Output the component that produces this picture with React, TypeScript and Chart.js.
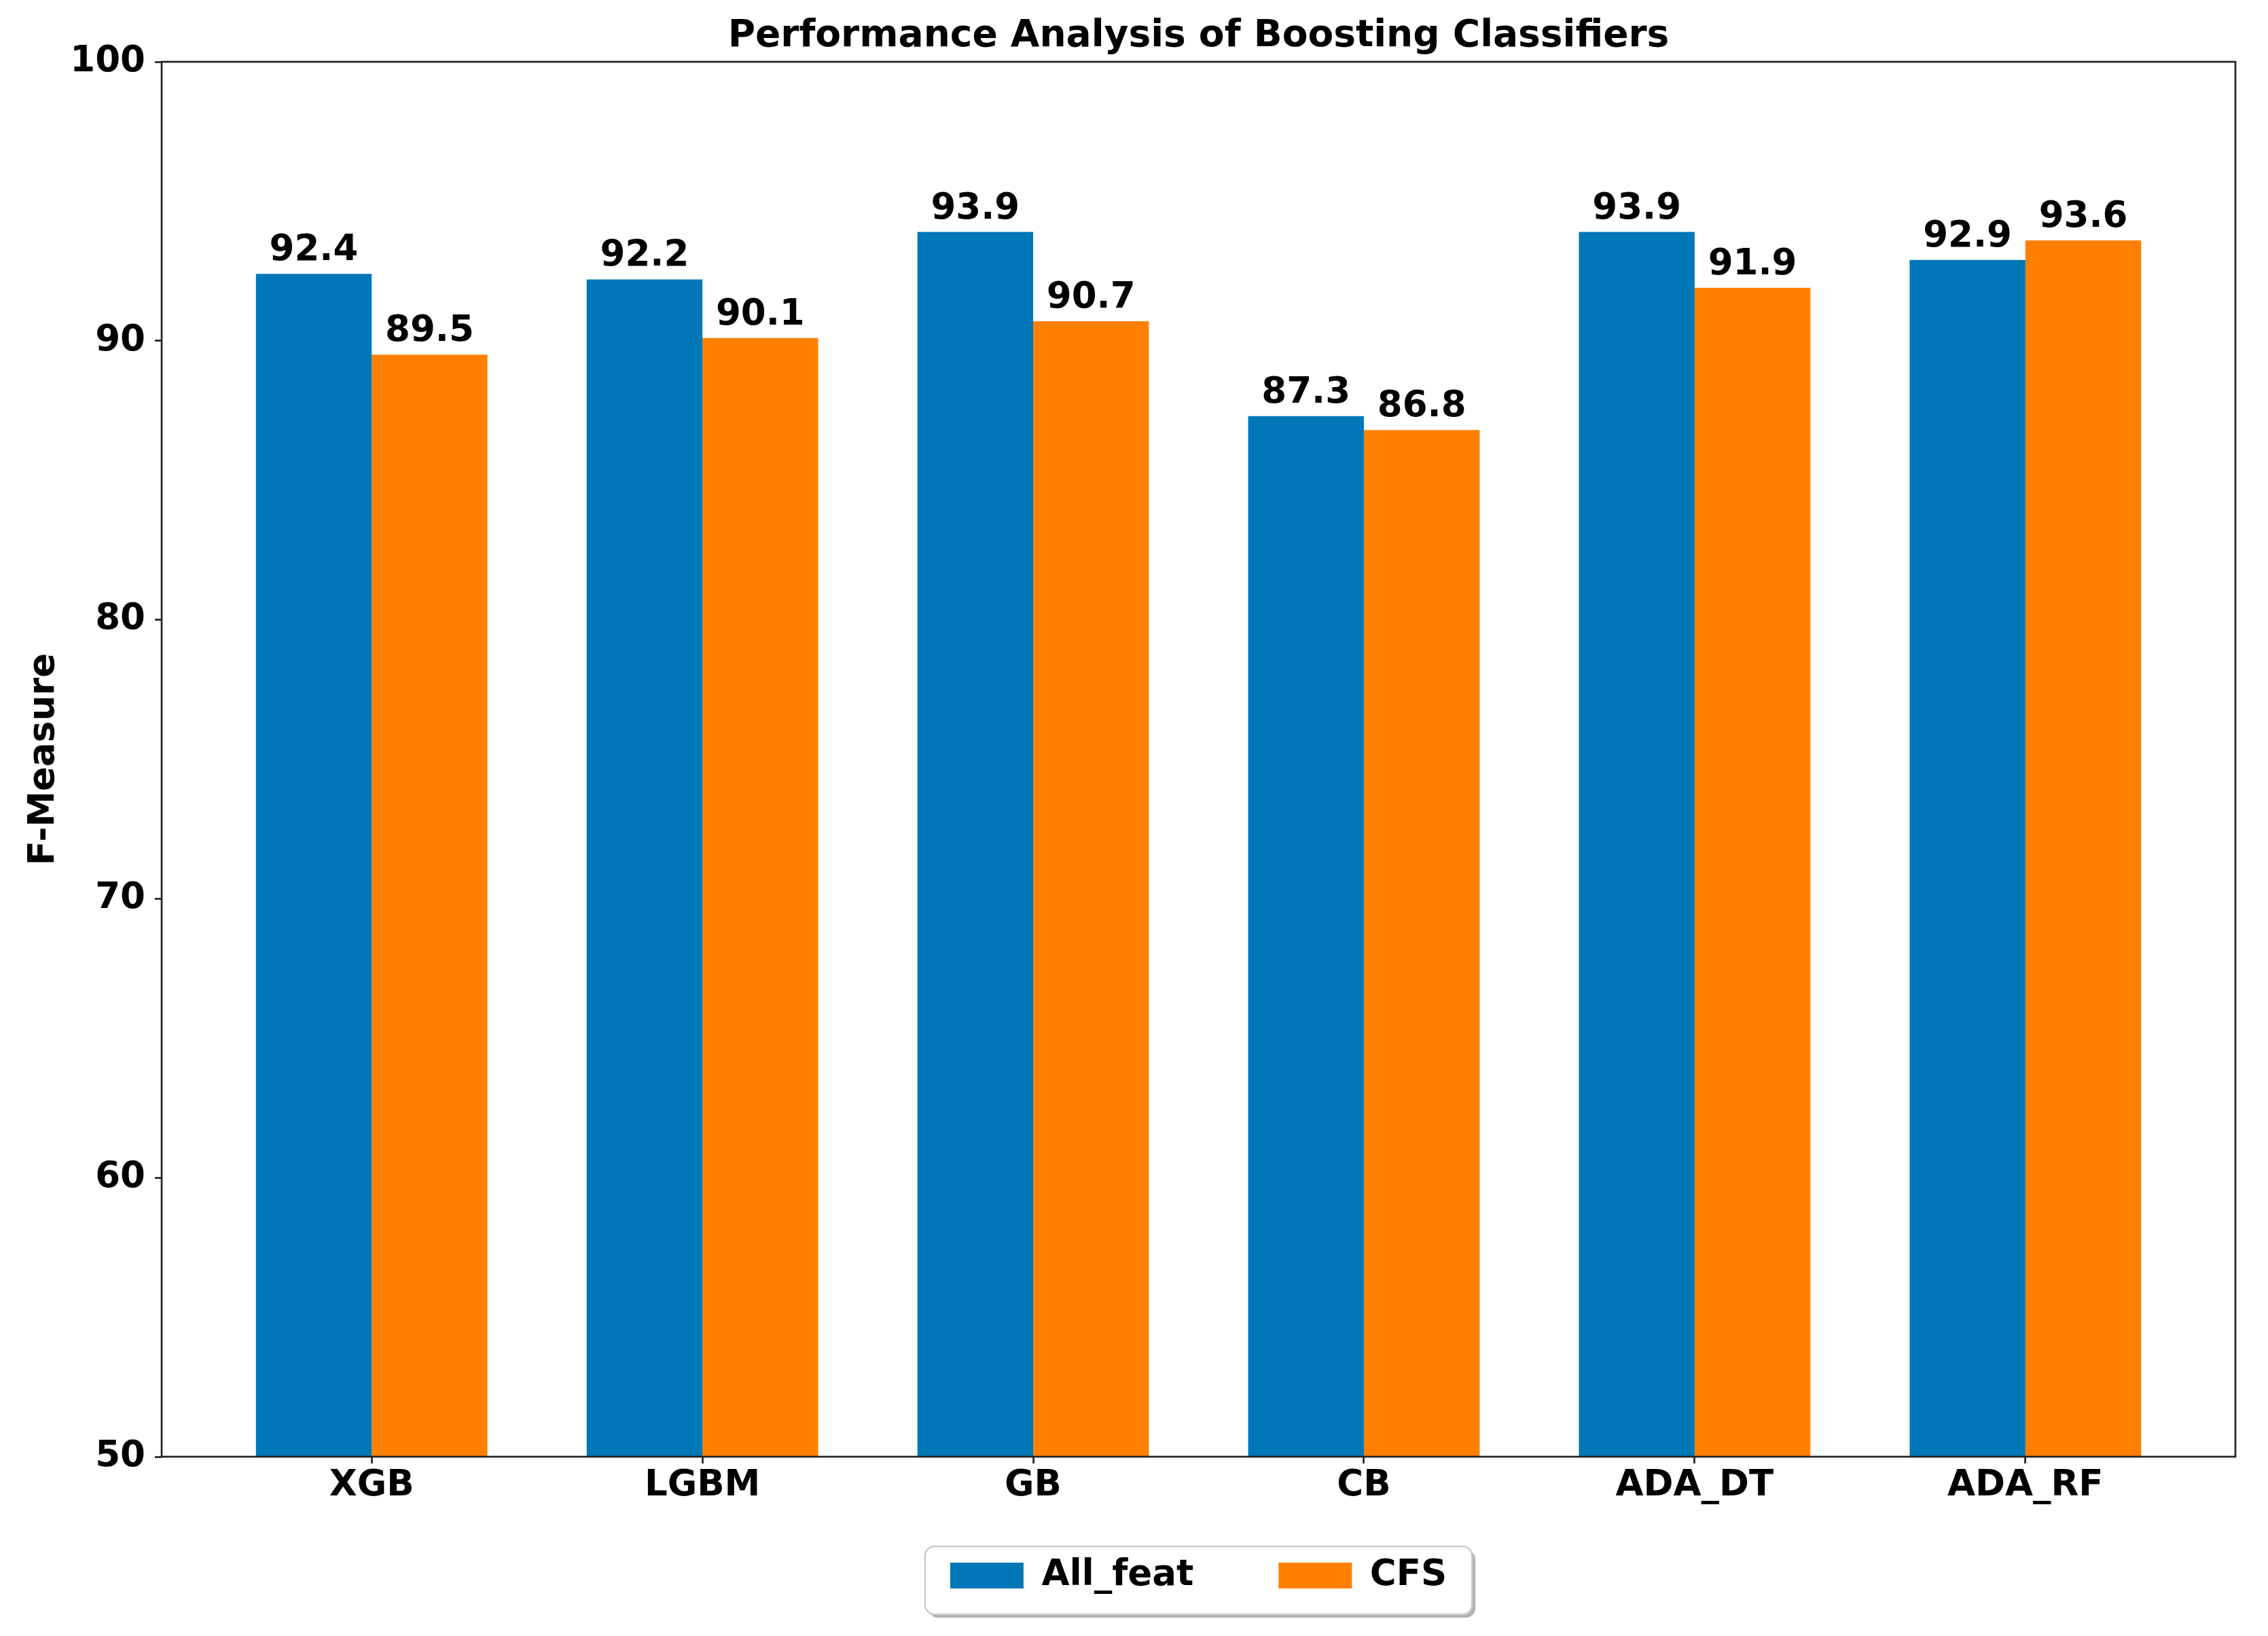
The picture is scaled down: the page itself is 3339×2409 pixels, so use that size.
import React, { useEffect, useRef } from 'react';
import { Chart, registerables } from 'chart.js';

Chart.register(...registerables);

// ---- data ----
const categories = ['XGB', 'LGBM', 'GB', 'CB', 'ADA_DT', 'ADA_RF'];
const allFeat = [92.4, 92.2, 93.9, 87.3, 93.9, 92.9];
const cfs = [89.5, 90.1, 90.7, 86.8, 91.9, 93.6];
const seriesNames = ['All_feat', 'CFS'];
const seriesColors = ['#0077b6', '#ff7f00'];
const yMin = 50;
const yMax = 100;
const yStep = 10;
const chartTitle = 'Performance Analysis of Boosting Classifiers';
const yTitle = 'F-Measure';

// ---- layout ----
const W = 3339;
const H = 2409;
const FS = 53;
const FAMILY = "'DejaVu Sans', 'Liberation Sans', sans-serif";
const font = { family: FAMILY, size: FS, weight: 'bold' as const };
const titleFont = { family: FAMILY, size: 55, weight: 'bold' as const };
const INK = '#000000';
const SPINE = '#222222';
const LEGEND_SHIFT = -51;
// matplotlib-style x limits: bars of width 0.35 each side, 5% margins
const halfGroup = 0.35;
const span = categories.length - 1 + 2 * halfGroup;
const xMin = -halfGroup - 0.05 * span;
const xMax = categories.length - 1 + halfGroup + 0.05 * span;

const decorPlugin = {
  id: 'decor',
  afterLayout(chart: any) {
    const lg = chart.legend;
    if (lg) {
      lg.top += LEGEND_SHIFT;
      lg.bottom += LEGEND_SHIFT;
    }
  },
  beforeDraw(chart: any) {
    const ctx = chart.ctx;
    ctx.save();
    ctx.fillStyle = '#ffffff';
    ctx.fillRect(0, 0, chart.width, chart.height);
    const lg = chart.legend;
    const hbs = lg && lg.legendHitBoxes;
    if (hbs && hbs.length) {
      const l = hbs[0].left;
      const last = hbs[hbs.length - 1];
      const r = last.left + last.width;
      const cy = hbs[0].top + hbs[0].height / 2;
      const cx = (l + r) / 2;
      const hw = (r - l) / 2 + 37;
      const x0 = cx - hw;
      const y0 = cy - 43;
      const w = 2 * hw;
      const h = 100;
      ctx.fillStyle = 'rgba(0,0,0,0.3)';
      ctx.beginPath();
      ctx.roundRect(x0 + 5, y0 + 5, w, h, 14);
      ctx.fill();
      ctx.fillStyle = '#ffffff';
      ctx.strokeStyle = '#cccccc';
      ctx.lineWidth = 2.5;
      ctx.beginPath();
      ctx.roundRect(x0, y0, w, h, 14);
      ctx.fill();
      ctx.stroke();
    }
    ctx.restore();
  },
  afterDatasetsDraw(chart: any) {
    const ctx = chart.ctx;
    const { left, right, top, bottom } = chart.chartArea;
    ctx.save();
    // value labels
    ctx.font = `bold ${FS}px ${FAMILY}`;
    ctx.fillStyle = INK;
    ctx.textAlign = 'center';
    ctx.textBaseline = 'alphabetic';
    chart.data.datasets.forEach((ds: any, i: number) => {
      const meta = chart.getDatasetMeta(i);
      meta.data.forEach((bar: any, j: number) => {
        const v = ds.data[j].y;
        ctx.fillText(v.toFixed(1), bar.x, bar.y - 20);
      });
    });
    // spines
    ctx.strokeStyle = SPINE;
    ctx.lineWidth = 2.7;
    ctx.strokeRect(left, top, right - left, bottom - top);
    ctx.restore();
  },
};

export default function App() {
  const ref = useRef<HTMLCanvasElement>(null);
  useEffect(() => {
    document.body.style.margin = '0';
    document.body.style.overflow = 'hidden';
    const seriesValues = [allFeat, cfs];
    const chart = new Chart(ref.current as HTMLCanvasElement, {
      type: 'bar',
      data: {
        datasets: seriesNames.map((name, i) => ({
          label: name,
          data: seriesValues[i].map((v, j) => ({ x: j, y: v })),
          backgroundColor: seriesColors[i],
          borderWidth: 0,
          barPercentage: 1.0,
          categoryPercentage: 2 * halfGroup,
        })),
      },
      options: {
        responsive: false,
        animation: false,
        devicePixelRatio: 1,
        layout: { padding: { top: 0, left: 0, right: 48, bottom: 1.4 } },
        scales: {
          x: {
            type: 'linear',
            min: xMin,
            max: xMax,
            offset: false,
            grid: {
              display: true,
              drawOnChartArea: false,
              drawTicks: true,
              tickLength: 10,
              tickWidth: 2.7,
              tickColor: SPINE,
              offset: false,
            },
            border: { display: false },
            ticks: {
              font,
              color: INK,
              padding: 1,
              autoSkip: false,
              maxRotation: 0,
              callback: (v: any) => categories[v] ?? '',
            },
            afterBuildTicks: (s: any) => {
              s.ticks = categories.map((_, i) => ({ value: i }));
            },
            afterFit: (s: any) => {
              s.height = 74.6;
            },
          },
          y: {
            min: yMin,
            max: yMax,
            grid: {
              display: true,
              drawOnChartArea: false,
              drawTicks: true,
              tickLength: 10,
              tickWidth: 2.7,
              tickColor: SPINE,
            },
            border: { display: false },
            ticks: { stepSize: yStep, font, color: INK, padding: 14 },
            title: {
              display: true,
              text: yTitle,
              font,
              color: INK,
              padding: { top: 33, bottom: 0 },
            },
            afterFit: (s: any) => {
              s.width = 238;
            },
          },
        },
        plugins: {
          title: {
            display: true,
            text: chartTitle,
            font: titleFont,
            color: INK,
            fullSize: false,
            padding: { top: 21, bottom: 4 },
          },
          legend: {
            position: 'bottom',
            fullSize: false,
            labels: {
              boxWidth: 108,
              boxHeight: 38,
              padding: 125,
              font,
              color: INK,
            },
          },
          tooltip: { enabled: false },
        },
      } as any,
      plugins: [decorPlugin],
    });
    return () => chart.destroy();
  }, []);
  return (
    <div style={{ width: W, height: H }}>
      <canvas ref={ref} width={W} height={H} style={{ display: 'block', width: W, height: H }} />
    </div>
  );
}
